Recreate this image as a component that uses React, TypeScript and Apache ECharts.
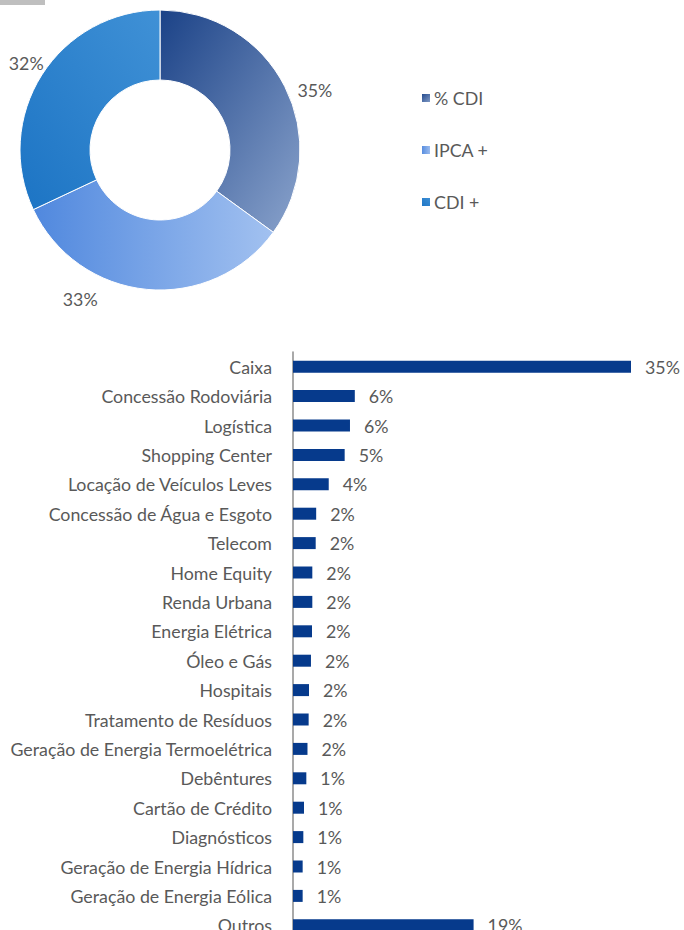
import React, { useEffect, useRef } from "react";
import * as echarts from "echarts";

const pieNames = ["% CDI", "IPCA +", "CDI +"];
const pieValues = [35, 33, 32];

const sectors = [
  "Caixa",
  "Concessão Rodoviária",
  "Logística",
  "Shopping Center",
  "Locação de Veículos Leves",
  "Concessão de Água e Esgoto",
  "Telecom",
  "Home Equity",
  "Renda Urbana",
  "Energia Elétrica",
  "Óleo e Gás",
  "Hospitais",
  "Tratamento de Resíduos",
  "Geração de Energia Termoelétrica",
  "Debêntures",
  "Cartão de Crédito",
  "Diagnósticos",
  "Geração de Energia Hídrica",
  "Geração de Energia Eólica",
  "Outros",
];
const sectorValues = [
  35, 6.4, 5.9, 5.35, 3.7, 2.4, 2.35, 2.0, 2.0, 1.97, 1.86, 1.66, 1.62, 1.5,
  1.38, 1.14, 1.07, 1.0, 1.0, 18.7,
];

const FONT = "Lato";
const TEXT = "#595959";
const FS = 17.8;

export default function App() {
  const ref = useRef<HTMLDivElement>(null);
  useEffect(() => {
    document.body.style.margin = "0";
    document.body.style.overflow = "hidden";
    document.documentElement.style.overflow = "hidden";
    const chart = echarts.init(ref.current!, null, { renderer: "svg" });
    const grad = (x: number, y: number, x2: number, y2: number, c1: string, c2: string) =>
      new echarts.graphic.LinearGradient(x, y, x2, y2, [
        { offset: 0, color: c1 },
        { offset: 1, color: c2 },
      ]);
    const pieColors = [
      grad(0, 0, 1, 1, "#1b4287", "#8aa3cc"),
      grad(0, 0, 1, 0, "#5088de", "#a2c1f0"),
      grad(0, 1, 1, 0, "#1c74c4", "#4091d6"),
    ];
    const labelOffsets = [
      { dx: -3, dy: 9 },
      { dx: -43, dy: -2 },
      { dx: 17, dy: -6 },
    ];
    chart.setOption({
      animation: false,
      textStyle: { fontFamily: FONT },
      graphic: [
        {
          type: "rect",
          left: 0,
          top: 0,
          shape: { width: 45, height: 5 },
          style: { fill: "#bfbfbf" },
        },
      ],
      legend: {
        orient: "vertical",
        left: 420,
        top: 89,
        itemWidth: 10,
        itemHeight: 10,
        itemGap: 34,
        padding: 0,
        icon: "rect",
        data: pieNames,
        textStyle: { color: TEXT, fontSize: FS, fontFamily: FONT, padding: [0, 0, 0, -2] },
      },
      grid: { left: 293, top: 352, width: 338, height: 588 },
      xAxis: { type: "value", min: 0, max: 35, show: false },
      yAxis: {
        type: "category",
        inverse: true,
        data: sectors,
        axisLine: { show: true, lineStyle: { color: "#8c8c8c", width: 1.5 } },
        axisTick: { show: false },
        axisLabel: { color: TEXT, fontSize: FS, margin: 21, fontFamily: FONT },
        splitLine: { show: false },
      },
      series: [
        {
          type: "pie",
          center: [160, 150],
          radius: [70, 140],
          startAngle: 90,
          clockwise: true,
          avoidLabelOverlap: false,
          itemStyle: { borderColor: "#ffffff", borderWidth: 1 },
          label: {
            show: true,
            position: "outside",
            color: TEXT,
            fontSize: FS,
            fontFamily: FONT,
            formatter: (p: any) => p.value + "%",
          },
          labelLine: { show: false, length: 12, length2: 0 },
          labelLayout: (p: any) => labelOffsets[p.dataIndex],
          emphasis: { disabled: true },
          data: pieNames.map((n, i) => ({
            name: n,
            value: pieValues[i],
            itemStyle: { color: pieColors[i] },
          })),
        },
        {
          type: "bar",
          data: sectorValues,
          barWidth: 12,
          itemStyle: { color: "#063a8c" },
          label: {
            show: true,
            position: "right",
            distance: 14,
            color: TEXT,
            fontSize: FS,
            fontFamily: FONT,
            formatter: (p: any) => Math.round(p.value) + "%",
          },
          emphasis: { disabled: true },
        },
      ],
    });
    return () => chart.dispose();
  }, []);
  return (
    <div
      ref={ref}
      style={{ position: "absolute", left: 0, top: 0, width: 684, height: 945 }}
    />
  );
}
